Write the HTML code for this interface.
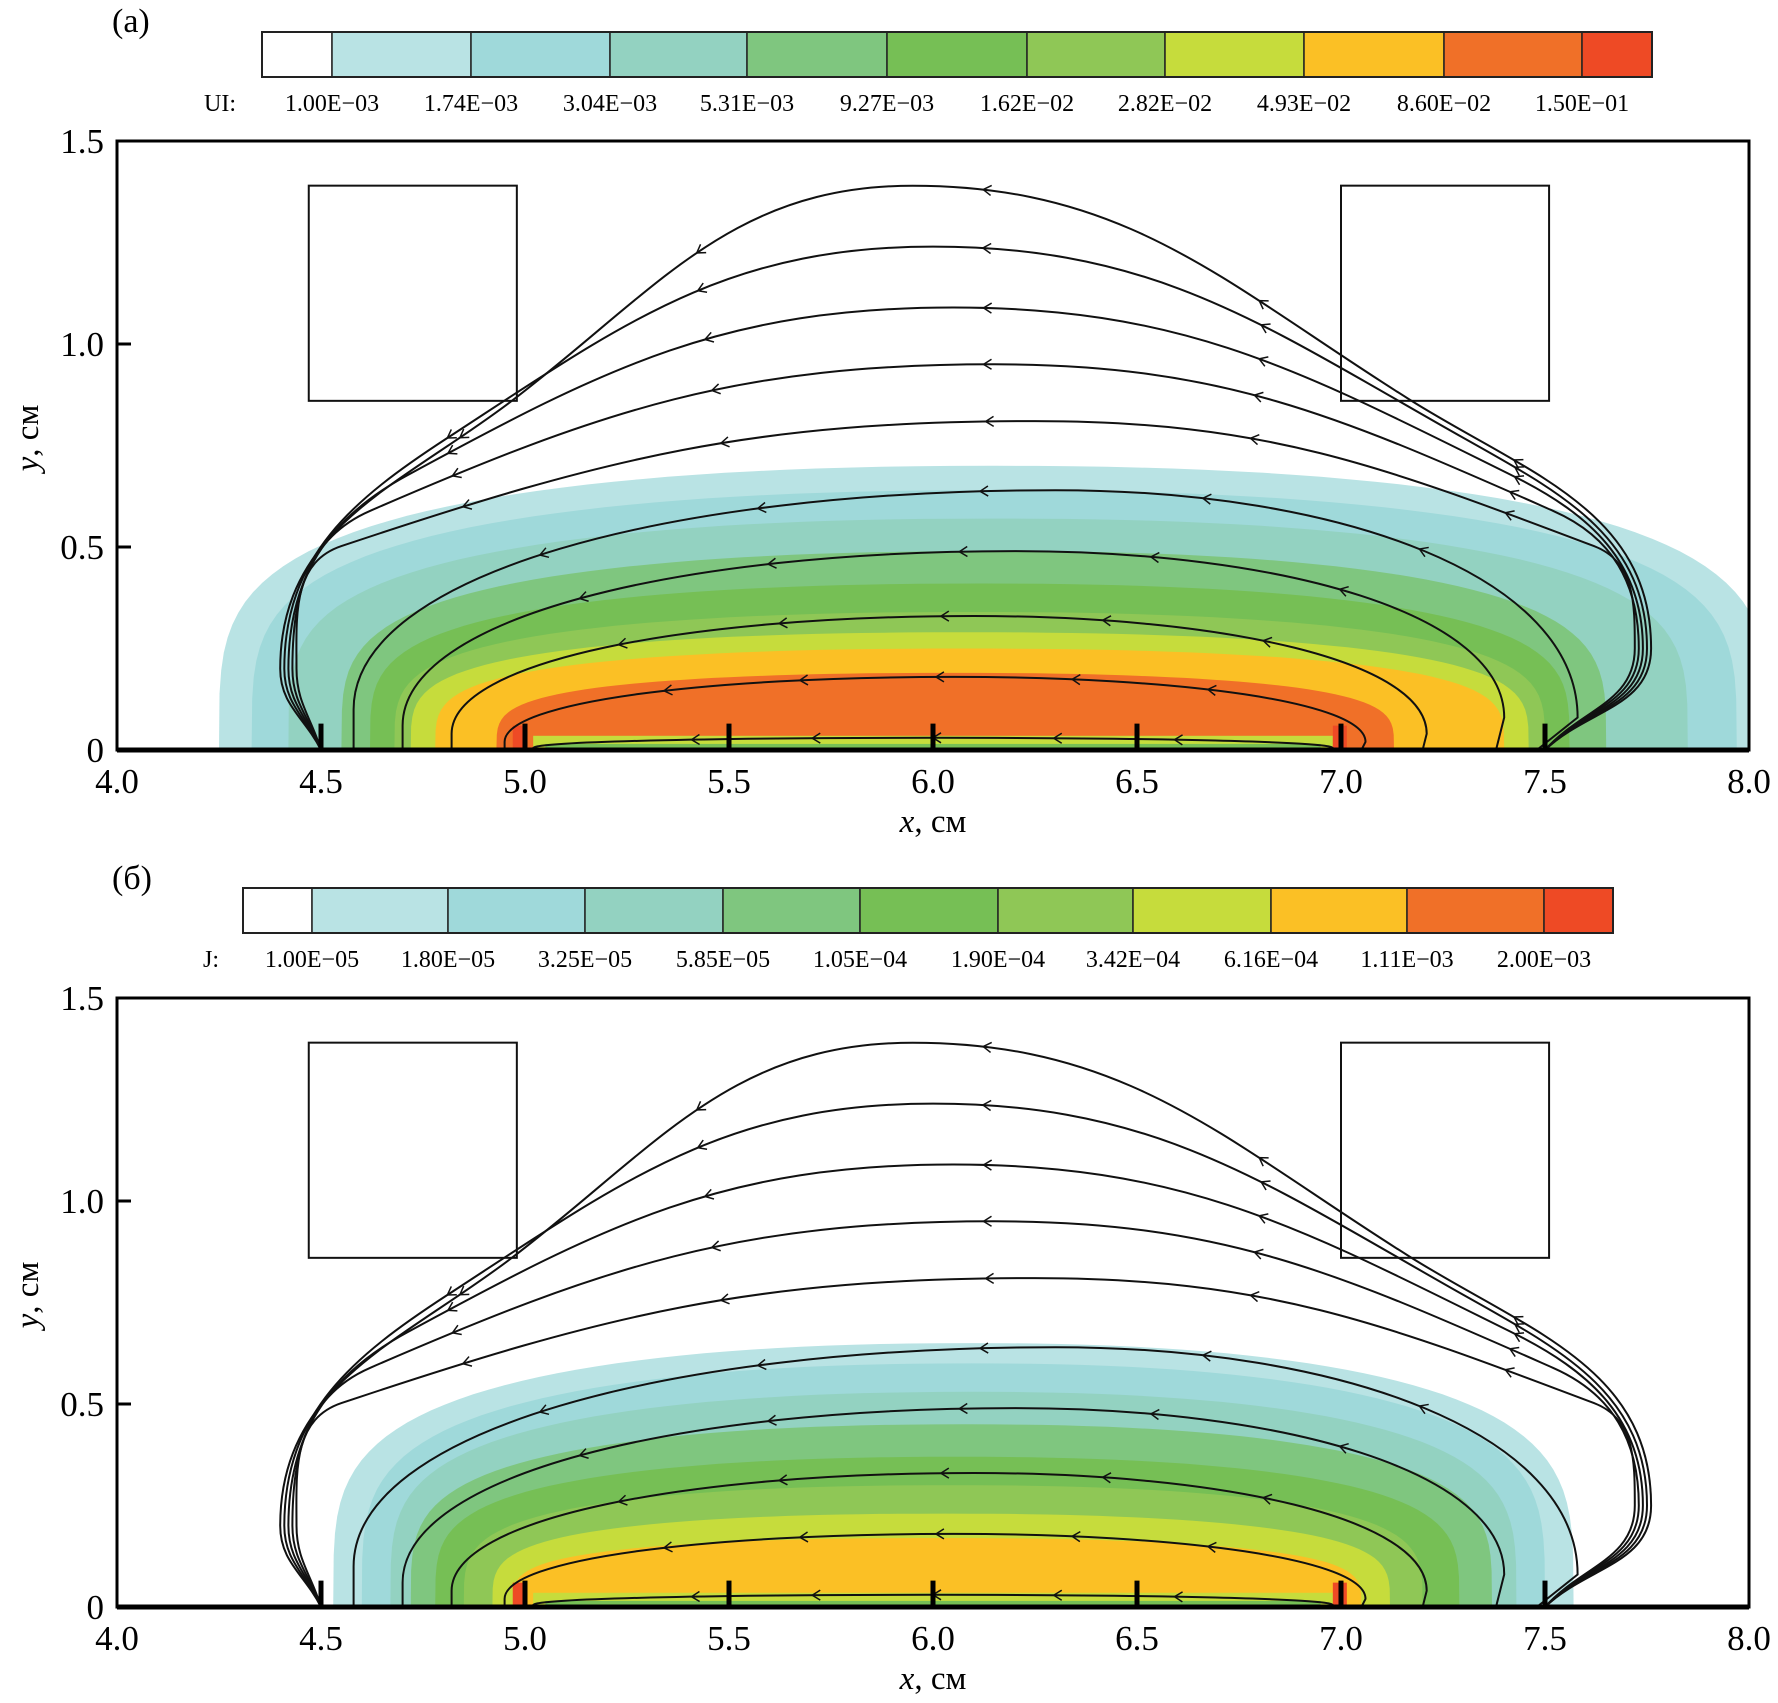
<!DOCTYPE html>
<html><head><meta charset="utf-8"><style>
body{margin:0;background:#fff}
svg{display:block;font-family:"Liberation Serif",serif}
</style></head><body>
<svg id="c" width="1778" height="1703" viewBox="0 0 1778 1703"></svg>
<script>
// ---- data ----
const colors=["#ffffff","#b9e3e4","#9fd9da","#93d2c1","#7fc67f","#76bf55","#8fc756","#c6dc3c","#fbc025","#f07028","#ee4a25"];
const labelsA=["1.00E\u221203","1.74E\u221203","3.04E\u221203","5.31E\u221203","9.27E\u221203","1.62E\u221202","2.82E\u221202","4.93E\u221202","8.60E\u221202","1.50E\u221201"];
const labelsB=["1.00E\u221205","1.80E\u221205","3.25E\u221205","5.85E\u221205","1.05E\u221204","1.90E\u221204","3.42E\u221204","6.16E\u221204","1.11E\u221203","2.00E\u221203"];
const xTicks=[4.0,4.5,5.0,5.5,6.0,6.5,7.0,7.5,8.0];
const yTicks=[0,0.5,1.0,1.5];
// contour bands (a): left x, right x, height, center x
const bandLA=[4.25,4.33,4.42,4.55,4.62,4.68,4.72,4.78,4.93];
const bandRA=[8.05,7.97,7.85,7.65,7.56,7.5,7.46,7.4,7.13];
const bandHA=[0.70,0.64,0.57,0.49,0.41,0.34,0.29,0.25,0.19];
const bandCA=[6.15,6.15,6.15,6.15,6.12,6.1,6.08,6.07,6.05];
const bandColA=[1,2,3,4,5,6,7,8,9];
// contour bands (b)
const bandLB=[4.53,4.6,4.67,4.72,4.78,4.85,4.92,4.97];
const bandRB=[7.57,7.5,7.43,7.37,7.29,7.2,7.12,7.05];
const bandHB=[0.65,0.60,0.53,0.45,0.37,0.30,0.23,0.17];
const bandCB=[6.1,6.1,6.1,6.08,6.06,6.05,6.03,6.02];
const bandColB=[1,2,3,4,5,6,7,8];
// streamlines
const peakH=[1.39,1.24,1.09,0.95,0.81,0.64,0.49,0.33,0.18,0.03];
const peakX=[5.95,6.0,6.05,6.15,6.25,6.3,6.2,6.1,6.05,6.0];
const footL=[4.5,4.5,4.5,4.5,4.5,4.58,4.7,4.82,4.95,5.02];
const footR=[7.5,7.5,7.5,7.5,7.5,7.48,7.38,7.2,7.05,6.98];
const bulgeL=[4.40,4.41,4.42,4.43,4.44,4.58,4.7,4.82,4.95,5.02];
const bulgeR=[7.76,7.75,7.74,7.73,7.72,7.58,7.4,7.21,7.06,6.98];
const bulgeYL=[0.2,0.2,0.2,0.2,0.2,0.1,0.06,0.04,0.02,0.005];
const bulgeYR=[0.25,0.25,0.25,0.25,0.25,0.08,0.08,0.04,0.02,0.005];
const shoulderL=[4.97,4.81,4.71,4.62,4.55];
const shoulderR=[7.17,7.3,7.42,7.52,7.62];
const shoulderY=[0.62,0.62,0.62,0.62,0.62];
const rectsX=[[4.47,4.98],[7.0,7.51]];
const rectsY=[0.86,1.39];
const electrodes=[4.5,5.0,5.5,6.0,6.5,7.0,7.5];

const svg=document.getElementById('c');
const NS='http://www.w3.org/2000/svg';
function mk(tag,attrs,parent){const e=document.createElementNS(NS,tag);for(const k in attrs)e.setAttribute(k,attrs[k]);(parent||svg).appendChild(e);return e;}
const X=x=>117+(x-4)*408;
function f1(v){return v.toFixed(1);}
function smooth(pts,fixed){
  const n=pts.length;const tan=[];
  for(let i=0;i<n;i++){
    if(fixed[i]){tan.push(fixed[i]);continue;}
    const a=pts[Math.max(0,i-1)],b=pts[Math.min(n-1,i+1)];
    let dx=b[0]-a[0],dy=b[1]-a[1];const l=Math.hypot(dx,dy)||1;tan.push([dx/l,dy/l]);
  }
  let d='M'+f1(pts[0][0])+','+f1(pts[0][1]);
  for(let i=0;i<n-1;i++){
    const p1=pts[i],p2=pts[i+1];const L=Math.hypot(p2[0]-p1[0],p2[1]-p1[1])*0.4;
    const c1=[p1[0]+tan[i][0]*L,p1[1]+tan[i][1]*L];
    const c2=[p2[0]-tan[i+1][0]*L,p2[1]-tan[i+1][1]*L];
    d+=`C${f1(c1[0])},${f1(c1[1])} ${f1(c2[0])},${f1(c2[1])} ${f1(p2[0])},${f1(p2[1])}`;
  }
  return d;
}
function innerLoop(fl,bl,pk,br,fr){
  const k=0.62,k2=0.55;
  let d=`M${f1(fl[0])},${f1(fl[1])} L${f1(bl[0])},${f1(bl[1])}`;
  d+=`C${f1(bl[0])},${f1(bl[1]-k*(bl[1]-pk[1]))} ${f1(pk[0]-k2*(pk[0]-bl[0]))},${f1(pk[1])} ${f1(pk[0])},${f1(pk[1])}`;
  d+=`C${f1(pk[0]+k2*(br[0]-pk[0]))},${f1(pk[1])} ${f1(br[0])},${f1(br[1]-k*(br[1]-pk[1]))} ${f1(br[0])},${f1(br[1])}`;
  d+=`L${f1(fr[0])},${f1(fr[1])}`;
  return d;
}

function panel(y0,tag,bandL,bandR,bandH,bandC,bandCol,colLabel,labels,barX,cbY){
  const Y=y=>y0-y*406;
  const g=mk('g',{});
  
  
  const clip=mk('clipPath',{id:'cl'+tag},g);
  mk('rect',{x:117,y:Y(1.5),width:1632,height:406*1.5},clip);
  const fills=mk('g',{'clip-path':'url(#cl'+tag+')'},g);
  
  
  for(let i=0;i<bandL.length;i++){
    let d='';
    for(let k=0;k<=80;k++){
      const th=Math.PI*k/80;const c=Math.cos(th),s=Math.sin(th);
      const a=c>=0?bandR[i]-bandC[i]:bandC[i]-bandL[i];
      const px=bandC[i]+a*Math.sign(c)*Math.pow(Math.abs(c),0.9);
      const py=bandH[i]*Math.pow(s,0.5);
      d+=(k?'L':'M')+f1(X(px))+','+f1(Y(py));
    }
    const p=mk('path',{d:d+'Z',fill:colors[bandCol[i]]},fills);
    
    
  }
  const st=mk('rect',{x:X(5.02),y:Y(0.035),width:X(6.98)-X(5.02),height:Y(0)-Y(0.035),fill:'#c6dc3c'},fills);
  
  
  const st2=mk('rect',{x:X(5.05),y:Y(0.015),width:X(6.95)-X(5.05),height:Y(0)-Y(0.015),fill:'#76bf55'},fills);
  
  
  [4.97,6.98].forEach(xx=>{const r=mk('rect',{x:X(xx),y:Y(0.06),width:14,height:Y(0)-Y(0.06),fill:'#ee4a25'},fills);
    
    });
  rectsX.forEach(r=>{const e=mk('rect',{x:X(r[0]),y:Y(rectsY[1]),width:X(r[1])-X(r[0]),height:Y(rectsY[0])-Y(rectsY[1]),fill:'none',stroke:'#111','stroke-width':2},g);
    
    });
  const sl=mk('g',{fill:'none',stroke:'#111','stroke-width':2},g);
  for(let i=0;i<peakH.length;i++){
    const h=peakH[i];
    let d;
    if(i<shoulderL.length){
      const pts=[[footL[i],0],[bulgeL[i],bulgeYL[i]],[shoulderL[i],h*shoulderY[i]],[peakX[i],h],[shoulderR[i],h*shoulderY[i]],[bulgeR[i],bulgeYR[i]],[footR[i],0]].map(p=>[X(p[0]),Y(p[1])]);
      d=smooth(pts,[null,[0,-1],null,[1,0],null,[0,1],null]);
    } else {
      d=innerLoop([X(footL[i]),Y(0)],[X(bulgeL[i]),Y(bulgeYL[i])],[X(peakX[i]),Y(h)],[X(bulgeR[i]),Y(bulgeYR[i])],[X(footR[i]),Y(0)]);
    }
    const p=mk('path',{d:d},sl);
    
    
    const L=p.getTotalLength();
    [0.2,0.35,0.5,0.65,0.8].forEach(f=>{
      const a=p.getPointAtLength(L*f),b=p.getPointAtLength(L*f+2);
      const ang=Math.atan2(a.y-b.y,a.x-b.x);
      const ah=mk('path',{d:'M8,-5 L0,0 L8,5',transform:`translate(${a.x},${a.y}) rotate(${ang*180/Math.PI+180})`,'stroke-width':1.5},sl);
      
      
    });
  }
  electrodes.forEach(ex=>{const e=mk('line',{x1:X(ex),x2:X(ex),y1:Y(0),y2:Y(0.065),stroke:'#000','stroke-width':5},g);
    
    });
  const fr=mk('rect',{x:117,y:Y(1.5),width:1632,height:406*1.5,fill:'none',stroke:'#000','stroke-width':3},g);
  
  
  mk('line',{x1:117,x2:1749,y1:Y(0),y2:Y(0),stroke:'#000','stroke-width':5},g);
  yTicks.forEach(v=>{
    mk('line',{x1:117,x2:131,y1:Y(v),y2:Y(v),stroke:'#000','stroke-width':3},g);
    const t=mk('text',{x:104,y:Y(v)+12,'text-anchor':'end','font-size':35},g);t.textContent=v===0?'0':v.toFixed(1);
    
    
  });
  xTicks.forEach(v=>{
    const t=mk('text',{x:X(v),y:y0+43,'text-anchor':'middle','font-size':35},g);t.textContent=v.toFixed(1);
    
    
  });
  const xt=mk('text',{x:933,y:y0+82,'text-anchor':'middle','font-size':33},g);
  xt.innerHTML='<tspan font-style="italic">x</tspan>, см';
  
  
  const yt=mk('text',{transform:`translate(38,${y0-312}) rotate(-90)`,'text-anchor':'middle','font-size':33},g);
  yt.innerHTML='<tspan font-style="italic">y</tspan>, см';
  
  
  const pt=mk('text',{x:112,y:y0-718,'font-size':34},g);pt.textContent=tag==='a'?'(a)':'(б)';
  
  
  const cb=mk('g',{},g);
  
  
  for(let i=0;i<11;i++){
    const r=mk('rect',{x:barX[i],y:cbY,width:barX[i+1]-barX[i],height:45,fill:colors[i],stroke:'#222','stroke-width':1.5},cb);
    
    
  }
  mk('rect',{x:barX[0],y:cbY,width:barX[11]-barX[0],height:45,fill:'none',stroke:'#222','stroke-width':2},cb);
  const cl=mk('text',{x:barX[0]-(tag==='a'?58:40),y:cbY+79,'font-size':24},cb);cl.textContent=colLabel;
  
  
  labels.forEach((s,i)=>{
    const t=mk('text',{x:barX[i+1],y:cbY+79,'text-anchor':'middle','font-size':24},cb);t.textContent=s;
    
    
  });
}
panel(750,'a',bandLA,bandRA,bandHA,bandCA,bandColA,'UI:',labelsA,[262,332,471,610,747,887,1027,1165,1304,1444,1582,1652],32);
panel(1607,'b',bandLB,bandRB,bandHB,bandCB,bandColB,'J:',labelsB,[243,312,448,585,723,860,998,1133,1271,1407,1544,1613],888);
</script>
</body></html>
